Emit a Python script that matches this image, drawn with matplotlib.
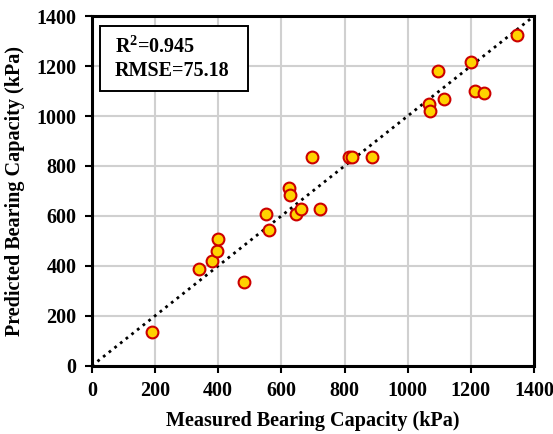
import matplotlib
matplotlib.use("Agg")
import matplotlib.pyplot as plt
from matplotlib.patches import Rectangle

measured = [192, 338, 379, 395, 400, 481, 553, 561, 623, 628, 645, 663, 696, 723,
            814, 824, 887, 1067, 1070, 1095, 1114, 1200, 1213, 1243, 1346]
predicted = [136, 388, 420, 460, 507, 335, 609, 545, 712, 685, 609, 628, 837, 628,
             837, 837, 837, 1049, 1020, 1180, 1067, 1215, 1100, 1093, 1325]
ticks = [0, 200, 400, 600, 800, 1000, 1200, 1400]
stats_lines = [r"$\mathbf{R^{2}}$=0.945", "RMSE=75.18"]

plt.rcParams['font.family'] = ['Liberation Serif', 'DejaVu Serif']
plt.rcParams['font.weight'] = 'bold'
plt.rcParams['mathtext.fontset'] = 'custom'
plt.rcParams['mathtext.rm'] = 'Liberation Serif:bold'
plt.rcParams['mathtext.bf'] = 'Liberation Serif:bold'
plt.rcParams['mathtext.it'] = 'Liberation Serif:bold'

fig = plt.figure(figsize=(5.53, 4.34), dpi=100)
ax = fig.add_axes([0.166, 0.157, 0.7997, 0.806])

ax.set_xlim(0, 1400)
ax.set_ylim(0, 1400)
ax.set_xticks(ticks)
ax.set_yticks(ticks)
ax.grid(True, color='#d0d0d0', linewidth=1.5)
ax.set_axisbelow(True)

ax.plot([0, 1400], [0, 1400], linestyle=(0, (1, 1.6)), color='black', linewidth=2.0, zorder=2)
ax.scatter(measured, predicted, s=72, facecolor='#FFD200', edgecolor='#CC0000',
           linewidth=1.5, zorder=3)

for sp in ax.spines.values():
    sp.set_linewidth(2.2)
    sp.set_color('black')

ax.tick_params(direction='out', length=5, width=1.5, labelsize=14.5, pad=6)
for lab in ax.get_xticklabels() + ax.get_yticklabels():
    lab.set_fontweight('bold')

ax.set_xlabel('Measured Bearing Capacity (kPa)', fontsize=14.5, fontweight='bold', va='center')
ax.set_ylabel('Predicted Bearing Capacity (kPa)', fontsize=14.5, fontweight='bold', va='center')
ax.xaxis.set_label_coords(0.5, -0.158)
ax.yaxis.set_label_coords(-0.174, 0.5)

ax.add_patch(Rectangle((0.0185, 0.786), 0.3345, 0.185, transform=ax.transAxes,
                       facecolor='white', edgecolor='black', linewidth=1.4, zorder=4))
ax.text(0.052, 0.912, stats_lines[0], transform=ax.transAxes, fontsize=14.5,
        fontweight='bold', va='center', ha='left', zorder=5)
ax.text(0.052, 0.842, stats_lines[1], transform=ax.transAxes, fontsize=14.5,
        fontweight='bold', va='center', ha='left', zorder=5)

fig.savefig('out.png', dpi=100)
